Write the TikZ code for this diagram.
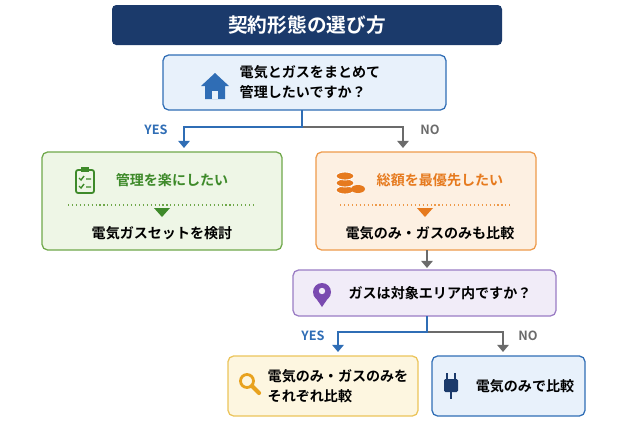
\documentclass[tikz,border=0pt]{standalone}
\usepackage{fontspec}
\setmainfont{Noto Sans CJK JP}[BoldFont={* Bold}]
\usetikzlibrary{positioning}
\usetikzlibrary{arrows.meta}
\definecolor{navy}{HTML}{1B3A6B}
\definecolor{qblue}{HTML}{2F6DB5}
\definecolor{qfill}{HTML}{E8F1FB}
\definecolor{gline}{HTML}{6FA84A}
\definecolor{gfill}{HTML}{EEF6E6}
\definecolor{gtext}{HTML}{3E8A2A}
\definecolor{oline}{HTML}{EE9A4A}
\definecolor{ofill}{HTML}{FDF0E2}
\definecolor{otext}{HTML}{E67A1E}
\definecolor{pline}{HTML}{9A7CC4}
\definecolor{pfill}{HTML}{F1ECF8}
\definecolor{picon}{HTML}{7A4AB0}
\definecolor{yline}{HTML}{EBC45A}
\definecolor{yfill}{HTML}{FDF6E0}
\definecolor{yicon}{HTML}{E8A21E}
\definecolor{arrgray}{HTML}{6B6B6B}

\begin{document}
\begin{tikzpicture}[x=0.025cm,y=-0.025cm, font=\bfseries,
      box/.style={draw, line width=0.9pt, rounded corners=4pt},
      txt/.style={align=center, font=\bfseries\fontsize{10}{14}\selectfont, text=black},
      lbl/.style={font=\bfseries\fontsize{9}{10}\selectfont},
      yes/.style={qblue, line width=1.6pt},
      no/.style={arrgray, line width=1.6pt},
      tip/.style={-{Triangle[length=5pt,width=8pt]}}]

      \useasboundingbox (0,0) rectangle (640,423);

      % title
      \fill[navy, rounded corners=3pt] (112,5) rectangle (502,45);
      \node[text=white, font=\bfseries\fontsize{14}{16}\selectfont] (title) at (307,25) {契約形態の選び方};

      % first question
      \draw[box, qblue, fill=qfill] (163,55) rectangle (446,110);
      \node[txt, align=left] (q1) at (310,82) {電気とガスをまとめて\\管理したいですか？};
      \fill[qblue] (201,86) -- (215,73) -- (229,86) -- (225,86) -- (225,99) -- (205,99) -- (205,86) -- cycle;
      \fill[qfill] (212,91) rectangle (218,99);

      \coordinate (s1) at (302,110);
      \coordinate (s1m) at (302,127);
      \draw[no, tip] (s1m) -| (403,148);
      \draw[yes, tip] (s1) -- (s1m) -| (184,148);
      \node[lbl, text=qblue] (yes1) at (156,130) {YES};
      \node[lbl, text=arrgray] (no1) at (430,130) {NO};

      % left box
      \draw[box, gline, fill=gfill] (42,152) rectangle (282,250);
      \draw[gtext, line width=1.3pt, rounded corners=1.5pt] (76,170) rectangle (94,193);
      \fill[gtext] (81,167) rectangle (89,172);
      \draw[gtext, line width=1pt] (79,178) -- (81,180) -- (84,176) (86,179) -- (91,179)
        (79,186) -- (81,188) -- (84,184) (86,187) -- (91,187);
      \node[txt, text=gtext] (easy) at (172,180) {管理を楽にしたい};
      \draw[gline, dotted, line width=0.8pt] (68,205) -- (256,205);
      \fill[gtext] (154,208) -- (170,208) -- (162,217) -- cycle;
      \node[txt] (set) at (162,233) {電気ガスセットを検討};

      % right box
      \draw[box, oline, fill=ofill] (316,152) rectangle (536,250);
      \foreach \yy in {190,183,176} {
        \fill[otext] (345,\yy) ellipse (9 and 4);
        \draw[white, line width=0.6pt] (345,\yy) ellipse (9 and 4);
      }
      \fill[otext] (358,189) ellipse (7 and 4);
      \node[txt, text=otext] (total) at (440,180) {総額を最優先したい};
      \draw[oline, dotted, line width=0.8pt] (340,205) -- (512,205);
      \fill[otext] (417,208) -- (433,208) -- (425,217) -- cycle;
      \node[txt] (cmp) at (430,233) {電気のみ・ガスのみも比較};

      \draw[no, tip] (427,250) -- (427,268);

      % second question
      \draw[box, pline, fill=pfill] (293,270) rectangle (556,316);
      \fill[picon] (322,292) circle (9);
      \fill[picon] (313.8,295) -- (330.2,295) -- (322,307) -- cycle;
      \fill[pfill] (322,291) circle (3.2);
      \node[txt] (q2) at (440,293) {ガスは対象エリア内ですか？};

      \coordinate (s2) at (427,316);
      \coordinate (s2m) at (427,332);
      \draw[no, tip] (s2m) -| (503,352);
      \draw[yes, tip] (s2) -- (s2m) -| (338,352);
      \node[lbl, text=qblue] (yes2) at (313,336) {YES};
      \node[lbl, text=arrgray] (no2) at (528,336) {NO};

      % bottom boxes
      \draw[box, yline, fill=yfill] (228,356) rectangle (418,416);
      \draw[yicon, line width=2pt] (247,381) circle (6.5);
      \draw[yicon, line width=3pt, line cap=round] (252,386) -- (259,393);
      \node[txt, align=left] (both) at (338,386) {電気のみ・ガスのみを\\それぞれ比較};

      \draw[box, qblue, fill=qfill] (432,356) rectangle (585,416);
      \fill[navy, rounded corners=1pt] (444,379) rectangle (458,392);
      \draw[navy, line width=1.5pt] (447,379) -- (447,373) (455,379) -- (455,373) (451,392) -- (451,399);
      \node[txt] (elec) at (525,386) {電気のみで比較};
    \end{tikzpicture}
\end{document}
